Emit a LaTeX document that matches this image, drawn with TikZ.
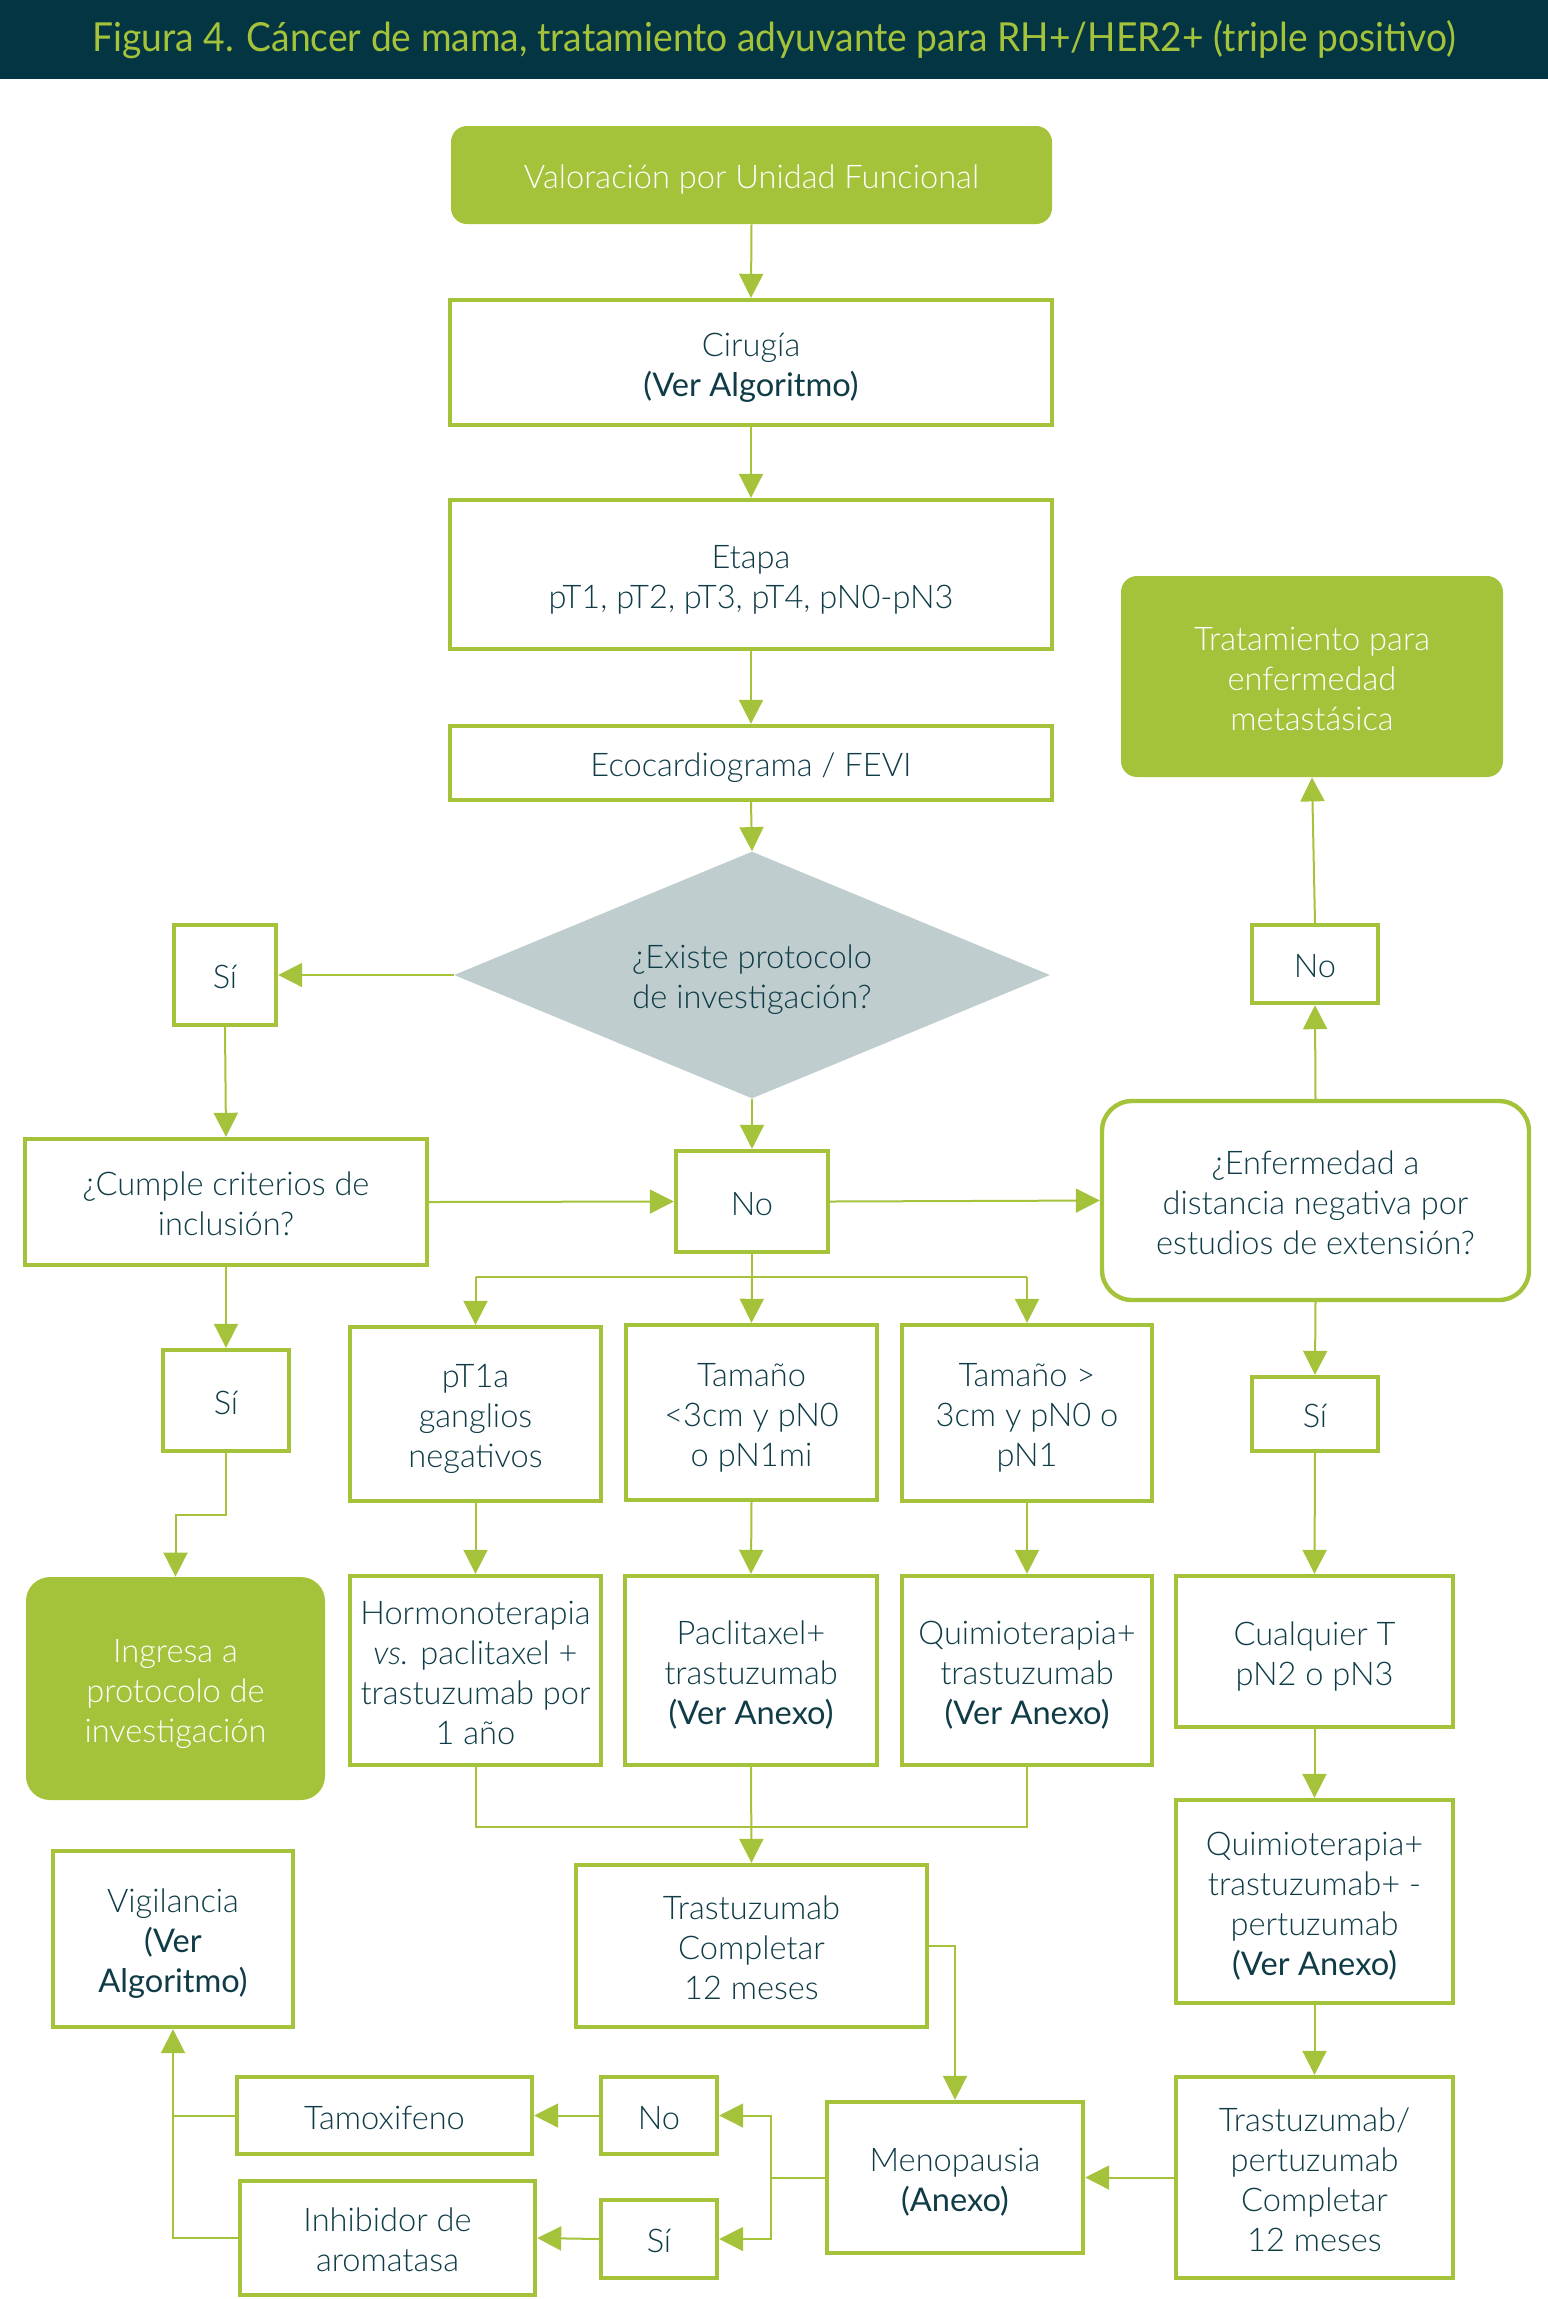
\documentclass[tikz,border=0pt]{standalone}
\usepackage{fontspec}
\setmainfont{Lato}[UprightFont=* Light, ItalicFont=* Light Italic, BoldFont=* Regular]
\newfontfamily\titlefont{Lato}
\usetikzlibrary{arrows.meta,shapes.geometric}
\definecolor{grn}{HTML}{A4C23A}
\definecolor{txt}{HTML}{0F3C46}
\definecolor{diafill}{HTML}{BFCDCE}
\definecolor{bar}{HTML}{033642}
\newcommand\tx[1]{\raisebox{0pt}[\dimexpr\height+5.6pt\relax][\depth]{\begin{tabular}{@{}c@{}}#1\end{tabular}}}
\begin{document}
\begin{tikzpicture}[x=0.5pt,y=-0.5pt,
  sz/.style 2 args={minimum width=#1*0.5pt, minimum height=#2*0.5pt},
  base/.style={inner sep=0pt, text=txt, font=\fontsize{16.3}{20}\selectfont},
  box/.style={base, draw=grn, line width=2.2pt, fill=white},
  fbox/.style={base, fill=grn, text=white, rounded corners=8pt},
  rbox/.style={box, rounded corners=15pt},
  con/.style={draw=grn, line width=1pt},
  arr/.style={con, -{Triangle[length=12pt,width=12pt]}},
]
\useasboundingbox (0,0) rectangle (1548,2299);
\fill[bar] (0,0) rectangle (1548,79);
\node[font=\titlefont\fontsize{20}{24}\selectfont, text=grn, inner sep=0pt, xscale=0.93, transform shape] (title) at (774,40) {Figura 4. Cáncer de mama, tratamiento adyuvante para RH+/HER2+ (triple positivo)};

\node[fbox, sz={601}{98}] (val) at (751.5,175) {\tx{Valoración por Unidad Funcional}};
\node[box, sz={602}{125}] (cir) at (751,362.5) {\tx{Cirugía\\\textbf{(Ver Algoritmo)}}};
\node[box, sz={602}{149}] (eta) at (751,574.5) {\tx{Etapa\\pT1, pT2, pT3, pT4, pN0-pN3}};
\node[box, sz={602}{74}] (eco) at (751,763) {\tx{Ecocardiograma / FEVI}};
\node[base, diamond, aspect=2.4, fill=diafill, sz={596}{247}] (dia) at (752,975) {\tx{¿Existe protocolo\\de investigación?}};
\node[box, sz={102}{100}] (siA) at (225,975) {\tx{Sí}};
\node[box, sz={402}{126}] (cum) at (226,1202) {\tx{¿Cumple criterios de\\inclusión?}};
\node[box, sz={152}{101}] (noC) at (752,1201.5) {\tx{No}};
\node[rbox, sz={427}{199}] (enf) at (1315.5,1200.5) {\tx{¿Enfermedad a\\distancia negativa por\\estudios de extensión?}};
\node[fbox, sz={382}{201}] (met) at (1312,676.5) {\tx{Tratamiento para\\enfermedad\\metastásica}};
\node[box, sz={126}{78}] (noR) at (1315,964) {\tx{No}};
\node[box, sz={126}{101}] (siB) at (226,1400.5) {\tx{Sí}};
\node[box, sz={251}{174}] (pt1) at (475.5,1414) {\tx{pT1a\\ganglios\\negativos}};
\node[box, sz={251}{175}] (tme) at (751.5,1412.5) {\tx{Tamaño\\<3cm y pN0\\o pN1mi}};
\node[box, sz={250}{176}] (tma) at (1027,1413) {\tx{Tamaño >\\3cm y pN0 o\\pN1}};
\node[box, sz={126}{74}] (siR) at (1315,1414) {\tx{Sí}};
\node[fbox, rounded corners=12pt, sz={299}{223}] (ing) at (175.5,1688.5) {\tx{Ingresa a\\protocolo de\\investigación}};
\node[box, sz={251}{189}] (hor) at (475.5,1670.5) {\tx{Hormonoterapia\\\textit{vs.} paclitaxel +\\trastuzumab por\\1 año}};
\node[box, sz={252}{189}] (pac) at (751,1670.5) {\tx{Paclitaxel+\\trastuzumab\\\textbf{(Ver Anexo)}}};
\node[box, sz={250}{189}] (qui) at (1027,1670.5) {\tx{Quimioterapia+\\trastuzumab\\\textbf{(Ver Anexo)}}};
\node[box, sz={277}{151}] (cua) at (1314.5,1651.5) {\tx{Cualquier T\\pN2 o pN3}};
\node[box, sz={240}{176}] (vig) at (173,1939) {\tx{Vigilancia\\\textbf{(Ver}\\\textbf{Algoritmo)}}};
\node[box, sz={351}{162}] (trc) at (751.5,1946) {\tx{Trastuzumab\\Completar\\12 meses}};
\node[box, sz={277}{203}] (qtp) at (1314.5,1901.5) {\tx{Quimioterapia+\\trastuzumab+ -\\pertuzumab\\\textbf{(Ver Anexo)}}};
\node[box, sz={295}{77}] (tam) at (384.5,2115.5) {\tx{Tamoxifeno}};
\node[box, sz={116}{77}] (noB) at (659,2115.5) {\tx{No}};
\node[box, sz={295}{114}] (inh) at (387.5,2238) {\tx{Inhibidor de\\aromatasa}};
\node[box, sz={116}{78}] (siBo) at (659,2239) {\tx{Sí}};
\node[box, sz={256}{151}] (men) at (955,2177.5) {\tx{Menopausia\\\textbf{(Anexo)}}};
\node[box, sz={277}{201}] (ttp) at (1314.5,2177.5) {\tx{Trastuzumab/\\pertuzumab\\Completar\\12 meses}};

% main column
\draw[arr] (val.south) -- (cir.north);
\draw[arr] (cir.south) -- (eta.north);
\draw[arr] (eta.south) -- (eco.north);
\draw[arr] (eco.south) -- (dia.north);
\draw[arr] (dia.south) -- (noC.north);
\draw[arr] (dia.west) -- (siA.east);
\draw[arr] (siA.south) -- (cum.north);
\draw[arr] (cum.east) -- (noC.west);
\draw[arr] (noC.east) -- (enf.west);
\draw[arr] (cum.south) -- (siB.north);
\draw[arr] (siB.south) -- ++(0,62) -| (ing.north);
% right column
\draw[arr] (enf.north) -- (noR.south);
\draw[arr] (noR.north) -- (met.south);
\draw[arr] (enf.south) -- (siR.north);
\draw[arr] (siR.south) -- (cua.north);
\draw[arr] (cua.south) -- (qtp.north);
\draw[arr] (qtp.south) -- (ttp.north);
\draw[arr] (ttp.west) -- (men.east);
% branch
\coordinate (j1) at (752,1277);
\draw[con] (noC.south) -- (j1);
\draw[con] (pt1.north |- j1) -- (tma.north |- j1);
\draw[arr] (pt1.north |- j1) -- (pt1.north);
\draw[arr] (j1) -- (tme.north);
\draw[arr] (tma.north |- j1) -- (tma.north);
\draw[arr] (pt1.south) -- (hor.north);
\draw[arr] (tme.south) -- (pac.north);
\draw[arr] (tma.south) -- (qui.north);
% join
\coordinate (j2) at (751,1827);
\draw[con] (hor.south) -- (hor.south |- j2) -- (qui.south |- j2) -- (qui.south);
\draw[arr] (pac.south) -- (trc.north);
\draw[arr] (trc.east) -| (men.north);
% menopausia
\coordinate (j3) at (771,2177.5);
\draw[con] (men.west) -- (j3);
\draw[arr] (j3) |- (noB.east);
\draw[arr] (j3) |- (siBo.east);
\draw[arr] (noB.west) -- (tam.east);
\draw[arr] (siBo.west) -- (inh.east);
\draw[con] (tam.west) -- (vig.south |- tam.west);
\draw[arr] (inh.west) -| (vig.south);
\end{tikzpicture}
\end{document}
